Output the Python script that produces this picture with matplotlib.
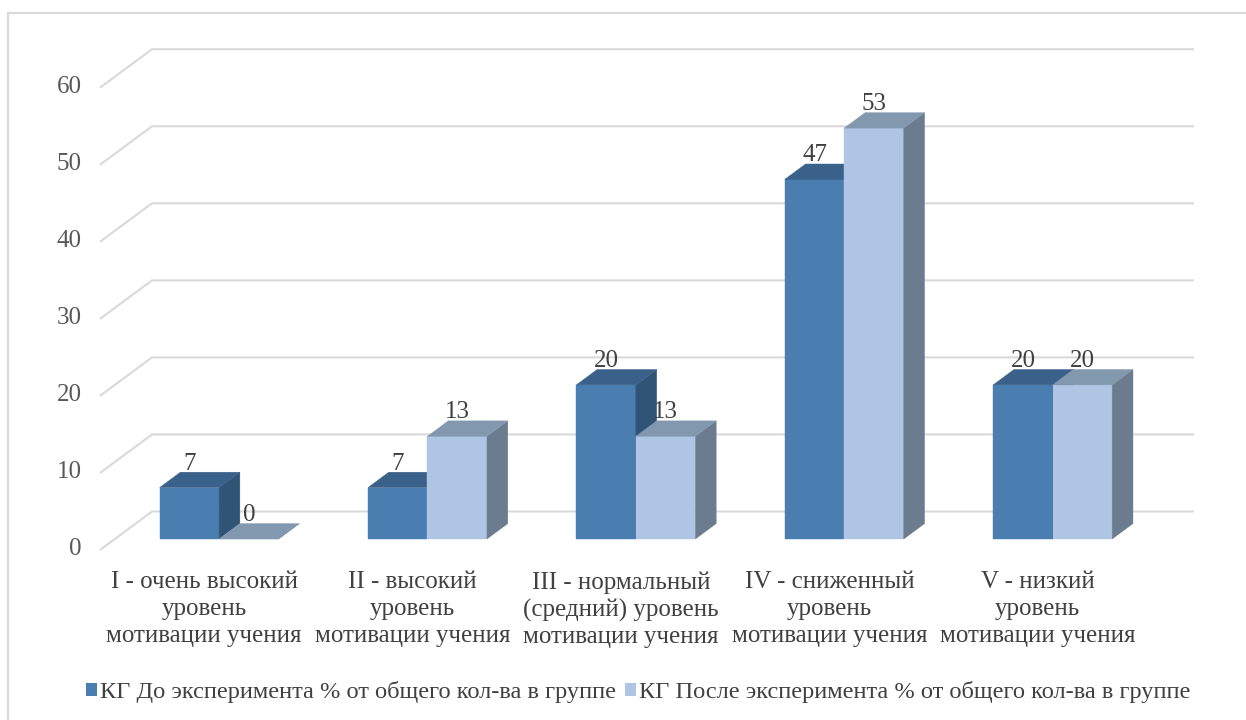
"""
Pseudo-3D clustered bar chart: motivation levels of the control group
before and after the experiment (% of group size).
"""

import matplotlib
matplotlib.use("Agg")
import matplotlib.pyplot as plt
from matplotlib.patches import Polygon, Patch
from matplotlib.lines import Line2D

plt.rcParams["font.family"] = ["Liberation Serif", "DejaVu Serif"]

# ---------------------------------------------------------------------------
# Data
# ---------------------------------------------------------------------------

categories = [
    "I - очень высокий\nуровень\nмотивации учения",
    "II - высокий\nуровень\nмотивации учения",
    "III - нормальный\n(средний) уровень\nмотивации учения",
    "IV - сниженный\nуровень\nмотивации учения",
    "V - низкий\nуровень\nмотивации учения",
]
series_names = [
    "КГ До эксперимента % от общего кол-ва в группе",
    "КГ После эксперимента % от общего кол-ва в группе",
]
before = [6.67, 6.67, 20.0, 46.67, 20.0]
after = [0.0, 13.33, 13.33, 53.33, 20.0]
y_ticks = [0, 10, 20, 30, 40, 50, 60]

# ---------------------------------------------------------------------------
# Layout / styling
# ---------------------------------------------------------------------------

W_PX, H_PX, DPI = 1246, 720, 100
SLOT_PX = 208.4          # width of one category slot on the floor front edge
X0_PX = 204.2            # pixel x of first category centre (front plane)
PX_PER_UNIT = 7.705      # pixels per value unit
Y0_PX = 550.0            # pixel y of value 0 on the front plane

DEPTH_DX = 52 / SLOT_PX  # full floor depth, in x units
DEPTH_DY = 38.5 / PX_PER_UNIT  # full floor depth, in value units
BAR_W = 59.5 / SLOT_PX
BAR_D0, BAR_D1 = 0.286, 0.686  # bar front/back depth fraction

FACE = {
    0: dict(front="#4a7eb0", top="#3a618a", side="#2f5476"),
    1: dict(front="#aec6e4", top="#8298af", side="#6b7c8f"),
}
GRID = "#d9d9d9"
FS = 25 * 72 / DPI       # 25 px text
FS_LEGEND = 24.4 * 72 / DPI


def proj(x, v, d):
    """Project a point (x, value, depth) onto the 2D drawing plane."""
    return (x + d * DEPTH_DX, v + d * DEPTH_DY)


def draw_bar(ax, xl, xr, v, colors):
    d0, d1 = BAR_D0, BAR_D1
    front = [proj(xl, 0, d0), proj(xr, 0, d0), proj(xr, v, d0), proj(xl, v, d0)]
    top = [proj(xl, v, d0), proj(xr, v, d0), proj(xr, v, d1), proj(xl, v, d1)]
    side = [proj(xr, 0, d0), proj(xr, 0, d1), proj(xr, v, d1), proj(xr, v, d0)]
    for pts, key in ((front, "front"), (side, "side"), (top, "top")):
        ax.add_patch(Polygon(pts, closed=True, facecolor=colors[key],
                             edgecolor=colors[key], linewidth=0.3, zorder=3))


fig = plt.figure(figsize=(W_PX / DPI, H_PX / DPI), dpi=DPI)
ax = fig.add_axes([0, 0, 1, 1])
ax.set_xlim(-X0_PX / SLOT_PX, (W_PX - X0_PX) / SLOT_PX)
ax.set_ylim((Y0_PX - H_PX) / PX_PER_UNIT, Y0_PX / PX_PER_UNIT)
ax.axis("off")

# chart border (left and top edges are visible)
fig.add_artist(Line2D([8.3 / W_PX, 8.3 / W_PX], [0, 1 - 12.7 / H_PX],
                      color=GRID, lw=1.5, transform=fig.transFigure))
fig.add_artist(Line2D([8.3 / W_PX, 1], [1 - 12.7 / H_PX, 1 - 12.7 / H_PX],
                      color=GRID, lw=1.5, transform=fig.transFigure))

# back-wall gridlines and their floor/side diagonals
x_left, x_right = -0.5, len(categories) - 0.5
for t in y_ticks:
    bx0, by = proj(x_left, t, 1)
    bx1, _ = proj(x_right, t, 1)
    fx, fy = proj(x_left, t, 0)
    ax.plot([fx, bx0, bx1], [fy, by, by], color=GRID, lw=1.5, zorder=1,
            solid_capstyle="butt")
    ax.text(fx - 18 / SLOT_PX, fy + 0.1, f"{t}", ha="right", va="center",
            fontsize=FS, color="#595959")

# bars and value labels
for i, (b, a) in enumerate(zip(before, after)):
    for s, v in enumerate((b, a)):
        xl = i - BAR_W + s * BAR_W
        xr = xl + BAR_W
        draw_bar(ax, xl, xr, v, FACE[s])
        lx, _ = proj((xl + xr) / 2, v, BAR_D0)
        _, ly = proj((xl + xr) / 2, v, BAR_D1)
        ax.text(lx, ly - 0.3, f"{v:.0f}", ha="center", va="bottom",
                fontsize=FS, color="#404040", zorder=4)

# category labels under the floor
for i, name in enumerate(categories):
    ax.text(i, (Y0_PX - 571.5) / PX_PER_UNIT, name, ha="center", va="top",
            fontsize=FS, color="#404040", linespacing=1.27)

handles = [Patch(facecolor=FACE[s]["front"], edgecolor="none") for s in (0, 1)]
fig.legend(handles, series_names, loc="center",
           bbox_to_anchor=(638 / W_PX, 1 - 692 / H_PX), ncol=2, frameon=False,
           fontsize=FS_LEGEND, handlelength=0.45, handleheight=0.45,
           handletextpad=0.12, columnspacing=0.36, labelcolor="#404040",
           borderpad=0, borderaxespad=0)

fig.savefig("out.png", dpi=DPI)
plt.close(fig)
